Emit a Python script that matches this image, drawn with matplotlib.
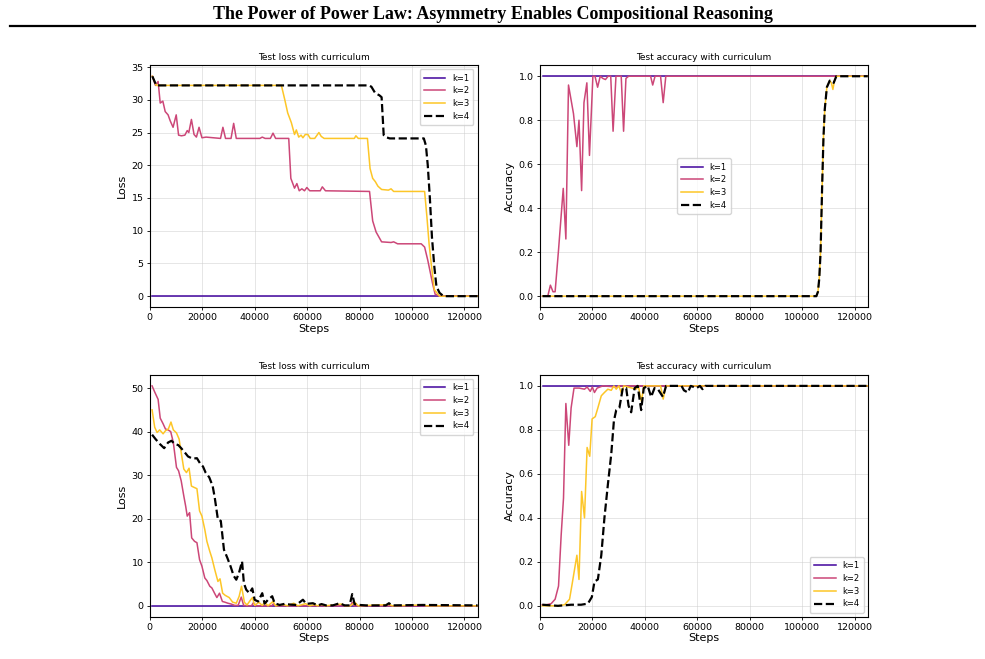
import numpy as np
import matplotlib
matplotlib.use('Agg')
import matplotlib.pyplot as plt
from matplotlib.lines import Line2D

ETIQUETAS = ['k=1', 'k=2', 'k=3', 'k=4']
COLORES = [plt.cm.plasma(0.1), plt.cm.plasma(0.5), plt.cm.plasma(0.88), 'black']

# ---- Test loss (arriba, izquierda) ----
tl_k1_x = [1000, 125000]
tl_k1_y = [0, 0]
tl_k2_x = [1000, 2200, 3200, 4000, 5000, 5900, 7000, 7800, 8900, 10100,
           11000, 12100, 13400, 14300, 14900, 15900, 16900, 17800, 18800, 19900,
           21500, 27000, 27900, 28900, 31000, 32000, 33000, 42000, 42900, 44000,
           46000, 47000, 48000, 53000, 53800, 55200, 56100, 57000, 58000, 59000,
           59900, 61000, 65000, 65800, 67000, 83800, 85000, 86300, 88400, 92000,
           93000, 94500, 103500, 104800, 106000, 107800, 108800, 110500, 125000]
tl_k2_y = [33.6, 32.2, 32.8, 29.5, 29.8, 28.2, 27.7, 26.8, 25.8, 27.7,
           24.6, 24.5, 24.6, 25.3, 25.0, 27.0, 24.7, 24.3, 25.8, 24.2,
           24.3, 24.1, 25.8, 24.1, 24.1, 26.4, 24.1, 24.1, 24.3, 24.1,
           24.1, 24.9, 24.1, 24.1, 18.0, 16.5, 17.2, 16.1, 16.4, 16.1,
           16.6, 16.1, 16.1, 16.7, 16.1, 16.0, 11.5, 9.8, 8.3, 8.2,
           8.3, 8.0, 8.0, 7.5, 5.5, 2.0, 0.3, 0.0, 0.0]
tl_k3_x = [1000, 2500, 50200, 51500, 52600, 54000, 55200, 55900, 56800, 57700,
           58400, 59300, 60300, 61200, 62900, 64500, 65400, 66500, 78000, 78600,
           79500, 83000, 84000, 85000, 86000, 87000, 88400, 91000, 92000, 93000,
           104800, 105700, 106500, 107300, 108500, 110500, 125000]
tl_k3_y = [33.6, 32.2, 32.2, 30.0, 28.0, 26.5, 24.7, 25.4, 24.3, 24.6,
           24.2, 24.7, 24.7, 24.1, 24.1, 25.0, 24.4, 24.1, 24.1, 24.5,
           24.1, 24.1, 19.5, 18.0, 17.5, 16.8, 16.3, 16.2, 16.4, 16.0,
           16.0, 12.0, 8.0, 5.0, 1.0, 0.0, 0.0]
tl_k4_x = [1000, 2500, 83500, 84500, 86000, 87500, 88400, 89200, 90000, 91500,
           104500, 105300, 106000, 106800, 107600, 108500, 109300, 110500, 112000, 125000]
tl_k4_y = [33.6, 32.2, 32.2, 32.0, 31.0, 30.7, 30.4, 24.6, 24.3, 24.1,
           24.1, 23.0, 20.0, 15.0, 9.0, 4.5, 1.5, 0.5, 0.0, 0.0]

# ---- Test accuracy (arriba, derecha) ----
tr_k1_x = [1000, 125000]
tr_k1_y = [1.0, 1.0]
tr_k2_x = [1000, 3000, 4000, 5000, 5800, 7100, 8900, 9900, 10900, 12800,
           14100, 14900, 15900, 16800, 17900, 18900, 20200, 21000, 22000, 23000,
           24000, 25000, 26000, 27000, 27900, 29000, 31000, 31900, 32800, 33800,
           42200, 43000, 43900, 46000, 47000, 48000, 125000]
tr_k2_y = [0.0, 0.0, 0.05, 0.02, 0.02, 0.21, 0.49, 0.26, 0.96, 0.83,
           0.68, 0.80, 0.48, 0.88, 0.97, 0.64, 1.0, 1.0, 0.95, 1.0,
           0.99, 0.985, 1.0, 1.0, 0.75, 1.0, 1.0, 0.75, 0.99, 1.0,
           1.0, 0.96, 1.0, 1.0, 0.88, 1.0, 1.0]
tr_k3_x = [1000, 105400, 106000, 106500, 107000, 107600, 108100, 108600, 109400, 110500,
           111100, 111700, 112300, 113000, 125000]
tr_k3_y = [0.0, 0.0, 0.02, 0.08, 0.2, 0.5, 0.72, 0.85, 0.95, 0.98,
           0.97, 0.94, 0.98, 1.0, 1.0]
tr_k4_x = [1000, 105400, 106000, 106500, 107000, 107600, 108100, 108600, 109400, 110500,
           111300, 112000, 113000, 125000]
tr_k4_y = [0.0, 0.0, 0.02, 0.08, 0.2, 0.5, 0.72, 0.85, 0.95, 0.98,
           0.98, 0.97, 1.0, 1.0]

# ---- Test loss (abajo, izquierda) ----
bl_k1_x = [1000, 125000]
bl_k1_y = [0, 0]
bl_k2_x = [900, 1900, 3200, 4000, 5100, 6000, 7000, 8000, 9000, 10200,
           11000, 12000, 13000, 13700, 14300, 15200, 16000, 17100, 18000, 19000,
           19900, 21000, 21800, 22900, 23700, 24800, 25600, 26600, 27700, 28600,
           29800, 31100, 32400, 33700, 34900, 35800, 37000, 38800, 39500, 40500,
           46500, 47200, 48000, 76500, 77200, 78000, 125000]
bl_k2_y = [50.5, 49.1, 47.4, 43.1, 41.8, 40.6, 40.4, 40.0, 37.5, 31.8,
           31.0, 28.7, 25.2, 22.9, 20.6, 21.4, 15.6, 14.8, 14.5, 10.6,
           9.1, 6.4, 5.8, 4.5, 4.1, 2.8, 1.9, 2.9, 1.0, 0.85,
           0.6, 0.4, 0.1, 0.1, 2.0, 0.1, 0.0, 0.0, 0.7, 0.0,
           0.0, 0.5, 0.0, 0.0, 0.8, 0.0, 0.0]
bl_k3_x = [900, 1900, 2800, 3800, 5100, 6000, 7100, 8100, 9000, 10200,
           11200, 12000, 13000, 14000, 15000, 15900, 16900, 18000, 19000, 19900,
           21000, 21800, 22900, 23700, 24800, 26000, 26800, 27800, 28800, 30300,
           31600, 33000, 34100, 35000, 36100, 37100, 38500, 39200, 40000, 41600,
           42900, 43800, 45100, 47000, 48000, 51000, 52500, 54900, 56500, 59400,
           61000, 62900, 64000, 65400, 67000, 73000, 74500, 76500, 78200, 79500,
           91400, 92500, 104000, 105500, 125000]
bl_k3_y = [45.0, 41.0, 39.8, 40.4, 39.5, 40.2, 40.6, 42.2, 40.4, 39.7,
           38.3, 35.2, 31.4, 30.6, 31.6, 27.5, 27.2, 26.9, 21.8, 20.6,
           17.5, 14.8, 12.5, 11.0, 8.3, 5.6, 6.2, 2.9, 2.4, 1.9,
           0.85, 0.6, 2.2, 4.5, 0.8, 0.2, 1.4, 1.9, 0.1, 0.8,
           0.1, 0.8, 0.0, 1.0, 0.0, 0.3, 0.0, 0.6, 0.0, 0.5,
           0.0, 0.3, 0.0, 0.3, 0.0, 0.4, 0.0, 0.0, 0.8, 0.0,
           0.3, 0.0, 0.2, 0.0, 0.0]
bl_k4_x = [900, 2200, 3800, 5500, 7000, 8300, 9500, 10900, 12000, 13400,
           14600, 16300, 18000, 19400, 20300, 21300, 22700, 24000, 24800, 26000,
           27100, 28300, 29600, 30800, 32000, 33000, 34000, 35200, 35900, 36800,
           38000, 39100, 40000, 41300, 42900, 43800, 45100, 46700, 47600, 49500,
           51400, 53300, 55900, 58400, 59700, 62200, 64100, 65500, 67200, 69800,
           72400, 74300, 76200, 77200, 78100, 80000, 82500, 90000, 91200, 92400,
           104000, 125000]
bl_k4_y = [39.3, 38.3, 37.2, 36.2, 37.5, 37.9, 37.2, 36.9, 36.2, 35.2,
           34.3, 33.8, 33.9, 32.5, 32.0, 30.6, 29.5, 27.5, 24.8, 19.8,
           19.5, 12.9, 11.0, 9.1, 6.9, 6.0, 7.5, 10.2, 5.2, 3.7,
           2.9, 4.0, 1.4, 1.0, 2.9, 0.5, 1.4, 2.2, 0.6, 0.2,
           0.45, 0.3, 0.2, 1.4, 0.45, 0.6, 0.1, 0.4, 0.1, 0.1,
           0.6, 0.1, 0.1, 2.7, 0.4, 0.2, 0.1, 0.1, 0.6, 0.1,
           0.2, 0.1]

# ---- Test accuracy (abajo, derecha) ----
br_k1_x = [1000, 125000]
br_k1_y = [1.0, 1.0]
br_k2_x = [900, 2500, 4300, 5800, 7100, 8100, 9000, 9900, 11000, 11900,
           13000, 15000, 17000, 18000, 19200, 20000, 20800, 21800, 24000, 29200,
           30000, 125000]
br_k2_y = [0.005, 0.005, 0.01, 0.03, 0.09, 0.32, 0.49, 0.92, 0.73, 0.90,
           0.99, 0.99, 0.985, 0.995, 0.975, 0.995, 0.97, 0.99, 1.0, 0.995,
           1.0, 1.0]
br_k3_x = [900, 6900, 9400, 11300, 12300, 13200, 14100, 14900, 15900, 17000,
           18000, 19000, 19900, 21100, 22100, 23400, 24600, 25900, 27200, 28200,
           29100, 30100, 31000, 32000, 36700, 37500, 38700, 39600, 46000, 47000,
           48000, 125000]
br_k3_y = [0.0, 0.0, 0.005, 0.03, 0.10, 0.165, 0.23, 0.12, 0.52, 0.40,
           0.72, 0.68, 0.85, 0.86, 0.90, 0.955, 0.97, 0.985, 0.98, 1.0,
           0.985, 1.0, 0.97, 1.0, 0.985, 1.0, 0.93, 1.0, 1.0, 0.94,
           1.0, 1.0]
br_k4_x = [900, 6900, 11900, 15700, 18300, 19800, 20800, 22100, 23400, 24600,
           25900, 27200, 28200, 29100, 30300, 31600, 32900, 33800, 34800, 36100,
           37300, 38600, 39600, 41100, 42400, 43700, 45000, 46900, 48100, 54000,
           54900, 56400, 57500, 59700, 61000, 62000, 63000, 125000]
br_k4_y = [0.005, 0.0, 0.005, 0.005, 0.01, 0.04, 0.11, 0.12, 0.23, 0.40,
           0.55, 0.69, 0.84, 0.89, 0.90, 0.99, 0.99, 0.91, 0.88, 0.99,
           1.0, 0.89, 0.99, 1.0, 0.95, 0.99, 0.985, 0.95, 1.0, 1.0,
           0.98, 0.97, 1.0, 0.99, 1.0, 0.985, 1.0, 1.0]


def crea_panel(ax, series, titulo, ylabel, loc_leyenda):
    for i, (x, y) in enumerate(series):
        if i == 3:
            ax.plot(x, y, color=COLORES[i], linestyle='--', linewidth=1.6, label=ETIQUETAS[i])
        else:
            ax.plot(x, y, color=COLORES[i], linewidth=1.1, label=ETIQUETAS[i])
    ax.set_xlim(0, 125000)
    ax.set_title(titulo, fontsize=6.5, pad=4)
    ax.set_xlabel('Steps', fontsize=8, labelpad=1)
    ax.set_ylabel(ylabel, fontsize=8, labelpad=3)
    ax.tick_params(labelsize=6.8, length=2.5, width=0.6, pad=2)
    ax.grid(True, color='#cccccc', alpha=0.5, linewidth=0.7)
    for sp in ax.spines.values():
        sp.set_linewidth(0.8)
    ax.legend(loc=loc_leyenda, fontsize=6, handlelength=2.6, labelspacing=0.45,
              borderpad=0.5, framealpha=0.8, edgecolor='#cccccc')


fig, axs = plt.subplots(2, 2, figsize=(9.85, 6.59), dpi=100)
plt.subplots_adjust(left=0.152, right=0.881, top=0.901, bottom=0.064, wspace=0.19, hspace=0.28)

crea_panel(axs[0, 0], [(tl_k1_x, tl_k1_y), (tl_k2_x, tl_k2_y), (tl_k3_x, tl_k3_y), (tl_k4_x, tl_k4_y)],
           'Test loss with curriculum', 'Loss', 'upper right')
crea_panel(axs[0, 1], [(tr_k1_x, tr_k1_y), (tr_k2_x, tr_k2_y), (tr_k3_x, tr_k3_y), (tr_k4_x, tr_k4_y)],
           'Test accuracy with curriculum', 'Accuracy', 'center')
crea_panel(axs[1, 0], [(bl_k1_x, bl_k1_y), (bl_k2_x, bl_k2_y), (bl_k3_x, bl_k3_y), (bl_k4_x, bl_k4_y)],
           'Test loss with curriculum', 'Loss', 'upper right')
crea_panel(axs[1, 1], [(br_k1_x, br_k1_y), (br_k2_x, br_k2_y), (br_k3_x, br_k3_y), (br_k4_x, br_k4_y)],
           'Test accuracy with curriculum', 'Accuracy', 'lower right')

fig.text(0.5, 0.978, 'The Power of Power Law: Asymmetry Enables Compositional Reasoning',
         ha='center', va='center', fontsize=13, fontweight='bold', family='Liberation Serif')
fig.add_artist(Line2D([0.01, 0.99], [0.961, 0.961], transform=fig.transFigure,
                      color='black', linewidth=1.6))

plt.savefig('out.png', dpi=100)
